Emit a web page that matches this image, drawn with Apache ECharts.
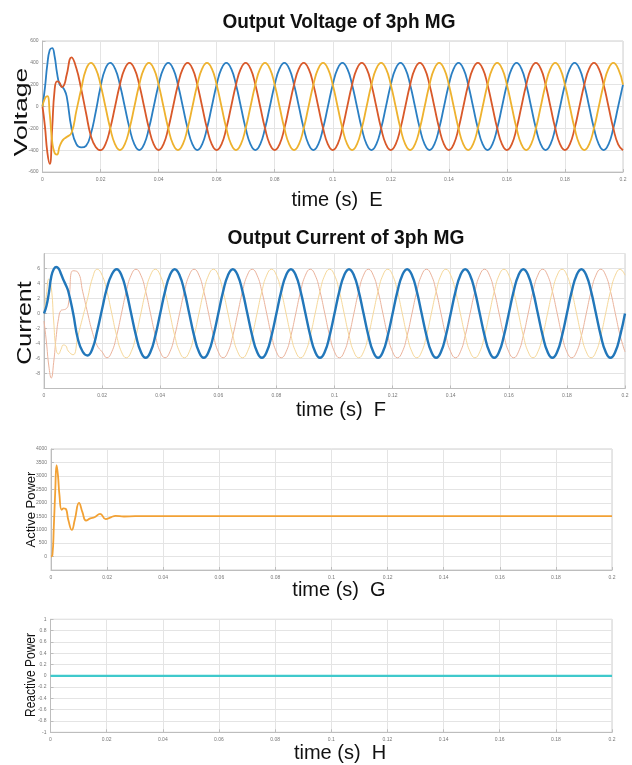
<!DOCTYPE html>
<html>
<head>
<meta charset="utf-8">
<script src="https://cdn.jsdelivr.net/npm/echarts@6/dist/echarts.min.js"></script>
<style>
html,body{margin:0;padding:0;background:#fff;}
#c{width:632px;height:765px;}
</style>
</head>
<body>
<div id="c"></div>
<script>
// ---- tick labels ----
const timeTicks = [0, 0.02, 0.04, 0.06, 0.08, 0.1, 0.12, 0.14, 0.16, 0.18, 0.2];
const voltTicks = [-600, -400, -200, 0, 200, 400, 600];
const currTicks = [-10, -8, -6, -4, -2, 0, 2, 4, 6, 8];
const pTicks = [-500, 0, 500, 1000, 1500, 2000, 2500, 3000, 3500, 4000];
const qTicks = [-1, -0.8, -0.6, -0.4, -0.2, 0, 0.2, 0.4, 0.6, 0.8, 1];

// ---- sample times for the 3-phase waveforms (fine steps during start-up) ----
const dt = 0.2 / 120;
const times = [];
for (let j = 0; j <= 10; j++) times.push(+(j * dt / 2).toFixed(6));
for (let i = 6; i <= 120; i++) times.push(+(i * dt).toFixed(6));

// ---- Output voltage (V) ----
const vBlue = [
  0, 170, 385, 517, 535, 460, 308, 206, 182, 154, 92,
  -200, -345, -375, -360, -250, -50,
  180, 346, 400, 346, 200, 0, -200, -346, -400, -346, -200, 0,
  200, 346, 400, 346, 200, 0, -200, -346, -400, -346, -200, 0,
  200, 346, 400, 346, 200, 0, -200, -346, -400, -346, -200, 0,
  200, 346, 400, 346, 200, 0, -200, -346, -400, -346, -200, 0,
  200, 346, 400, 346, 200, 0, -200, -346, -400, -346, -200, 0,
  200, 346, 400, 346, 200, 0, -200, -346, -400, -346, -200, 0,
  200, 346, 400, 346, 200, 0, -200, -346, -400, -346, -200, 0,
  200, 346, 400, 346, 200, 0, -200, -346, -400, -346, -200, 0,
  200, 346, 400, 346, 200, 0, -200, -346, -400, -346, -200, 0,
  200
];
const vRed = [
  0, -180, -420, -525, -200, 150, 230, 220, 178, 200, 290,
  450, 350, 160, -60, -270, -370,
  -400, -346, -200, 0, 200, 346, 400, 346, 200, 0, -200, -346,
  -400, -346, -200, 0, 200, 346, 400, 346, 200, 0, -200, -346,
  -400, -346, -200, 0, 200, 346, 400, 346, 200, 0, -200, -346,
  -400, -346, -200, 0, 200, 346, 400, 346, 200, 0, -200, -346,
  -400, -346, -200, 0, 200, 346, 400, 346, 200, 0, -200, -346,
  -400, -346, -200, 0, 200, 346, 400, 346, 200, 0, -200, -346,
  -400, -346, -200, 0, 200, 346, 400, 346, 200, 0, -200, -346,
  -400, -346, -200, 0, 200, 346, 400, 346, 200, 0, -200, -346,
  -400, -346, -200, 0, 200, 346, 400, 346, 200, 0, -200, -346,
  -400
];
const vYellow = [
  0, 75, 95, -70, -320, -425, -440, -370, -320, -295, -280,
  -240, -40, 160, 340, 400, 346,
  200, 0, -200, -346, -400, -346, -200, 0, 200, 346, 400, 346,
  200, 0, -200, -346, -400, -346, -200, 0, 200, 346, 400, 346,
  200, 0, -200, -346, -400, -346, -200, 0, 200, 346, 400, 346,
  200, 0, -200, -346, -400, -346, -200, 0, 200, 346, 400, 346,
  200, 0, -200, -346, -400, -346, -200, 0, 200, 346, 400, 346,
  200, 0, -200, -346, -400, -346, -200, 0, 200, 346, 400, 346,
  200, 0, -200, -346, -400, -346, -200, 0, 200, 346, 400, 346,
  200, 0, -200, -346, -400, -346, -200, 0, 200, 346, 400, 346,
  200, 0, -200, -346, -400, -346, -200, 0, 200, 346, 400, 346,
  200
];

// ---- Output current (A) ----
const iBlue = [
  0, 1.0, 2.7, 4.9, 5.9, 6.2, 6.0, 5.3, 4.5, 3.8, 3.0,
  0.1, -3.4, -5.1, -5.6, -4.7, -2.3,
  0.6, 3.4, 5.2, 5.9, 5.11, 2.95, 0, -2.95, -5.11, -5.9, -5.11, -2.95,
  0, 2.95, 5.11, 5.9, 5.11, 2.95, 0, -2.95, -5.11, -5.9, -5.11, -2.95,
  0, 2.95, 5.11, 5.9, 5.11, 2.95, 0, -2.95, -5.11, -5.9, -5.11, -2.95,
  0, 2.95, 5.11, 5.9, 5.11, 2.95, 0, -2.95, -5.11, -5.9, -5.11, -2.95,
  0, 2.95, 5.11, 5.9, 5.11, 2.95, 0, -2.95, -5.11, -5.9, -5.11, -2.95,
  0, 2.95, 5.11, 5.9, 5.11, 2.95, 0, -2.95, -5.11, -5.9, -5.11, -2.95,
  0, 2.95, 5.11, 5.9, 5.11, 2.95, 0, -2.95, -5.11, -5.9, -5.11, -2.95,
  0, 2.95, 5.11, 5.9, 5.11, 2.95, 0, -2.95, -5.11, -5.9, -5.11, -2.95,
  0, 2.95, 5.11, 5.9, 5.11, 2.95, 0, -2.95, -5.11, -5.9, -5.11, -2.95,
  0
];
const iRed = [
  -1.0, -3.8, -7.0, -8.6, -6.5, -3.2, -0.7, 0.4, 0.5, 0.6, 1.1,
  5.7, 5.5, 2.9, 0.1, -2.5, -4.3,
  -5.11, -5.9, -5.11, -2.95, 0, 2.95, 5.11, 5.9, 5.11, 2.95, 0, -2.95,
  -5.11, -5.9, -5.11, -2.95, 0, 2.95, 5.11, 5.9, 5.11, 2.95, 0, -2.95,
  -5.11, -5.9, -5.11, -2.95, 0, 2.95, 5.11, 5.9, 5.11, 2.95, 0, -2.95,
  -5.11, -5.9, -5.11, -2.95, 0, 2.95, 5.11, 5.9, 5.11, 2.95, 0, -2.95,
  -5.11, -5.9, -5.11, -2.95, 0, 2.95, 5.11, 5.9, 5.11, 2.95, 0, -2.95,
  -5.11, -5.9, -5.11, -2.95, 0, 2.95, 5.11, 5.9, 5.11, 2.95, 0, -2.95,
  -5.11, -5.9, -5.11, -2.95, 0, 2.95, 5.11, 5.9, 5.11, 2.95, 0, -2.95,
  -5.11, -5.9, -5.11, -2.95, 0, 2.95, 5.11, 5.9, 5.11, 2.95, 0, -2.95,
  -5.11, -5.9, -5.11, -2.95, 0, 2.95, 5.11, 5.9, 5.11, 2.95, 0, -2.95,
  -5.11
];
const iYellow = [
  0, 2.5, 4.6, 3.5, -1.0, -4.8, -5.4, -4.8, -4.2, -4.3, -5.0,
  -5.5, -3.0, -0.5, 2.0, 4.7, 5.9,
  5.11, 2.95, 0, -2.95, -5.11, -5.9, -5.11, -2.95, 0, 2.95, 5.11, 5.9,
  5.11, 2.95, 0, -2.95, -5.11, -5.9, -5.11, -2.95, 0, 2.95, 5.11, 5.9,
  5.11, 2.95, 0, -2.95, -5.11, -5.9, -5.11, -2.95, 0, 2.95, 5.11, 5.9,
  5.11, 2.95, 0, -2.95, -5.11, -5.9, -5.11, -2.95, 0, 2.95, 5.11, 5.9,
  5.11, 2.95, 0, -2.95, -5.11, -5.9, -5.11, -2.95, 0, 2.95, 5.11, 5.9,
  5.11, 2.95, 0, -2.95, -5.11, -5.9, -5.11, -2.95, 0, 2.95, 5.11, 5.9,
  5.11, 2.95, 0, -2.95, -5.11, -5.9, -5.11, -2.95, 0, 2.95, 5.11, 5.9,
  5.11, 2.95, 0, -2.95, -5.11, -5.9, -5.11, -2.95, 0, 2.95, 5.11, 5.9,
  5.11, 2.95, 0, -2.95, -5.11, -5.9, -5.11, -2.95, 0, 2.95, 5.11, 5.9,
  5.11
];

// ---- Active power (W) ----
const pTime = [0, 0.0005, 0.001, 0.0015, 0.002, 0.0025, 0.003, 0.0038, 0.0045, 0.0052, 0.0062, 0.0074,
  0.0085, 0.01, 0.0112, 0.0125, 0.014, 0.0155, 0.0175, 0.0195, 0.0215, 0.023, 0.026, 0.03, 0.2];
const pVal = [0, 50, 1100, 2400, 3400, 3000, 2300, 1740, 1790, 1780, 1350, 990,
  1380, 2000, 1650, 1340, 1420, 1460, 1590, 1390, 1470, 1510, 1490, 1500, 1500];

// ---- Reactive power ----
const qTime = [0, 0.2];
const qVal = [0, 0];

// ---------------------------------------------------------------
const FONT = '"Liberation Sans", Arial, sans-serif';
const pairs = (t, v) => t.map((x, i) => [x, v[i]]);
const range = (ticks) => ({ min: ticks[0], max: ticks[ticks.length - 1], interval: +(ticks[1] - ticks[0]).toFixed(6) });

const grids = [
  { left: 42.5, top: 41, width: 580.5, height: 131 },
  { left: 44, top: 253.5, width: 581, height: 135 },
  { left: 51, top: 449, width: 561, height: 121 },
  { left: 50.5, top: 619.3, width: 561.5, height: 113 }
].map(g => Object.assign({ show: true, borderColor: '#cfcfcf', borderWidth: 1, containLabel: false, outerBoundsMode: 'none' }, g));

const baseAxis = {
  axisLine: { show: true, onZero: false, lineStyle: { color: '#bdbdbd', width: 1 } },
  axisTick: { show: true, inside: true, length: 3, lineStyle: { color: '#bdbdbd' } },
  splitLine: { show: true, lineStyle: { color: '#e4e4e4', width: 1 } },
  axisLabel: { fontSize: 5, color: '#777', fontFamily: FONT, margin: 5 }
};

const fmt = v => String(+(+v).toFixed(2));

const xAxes = [0, 1, 2, 3].map(k => Object.assign({}, baseAxis, range(timeTicks), {
  type: 'value', gridIndex: k,
  axisLabel: Object.assign({}, baseAxis.axisLabel, { formatter: fmt })
}));

const yAxes = [voltTicks, currTicks, pTicks, qTicks].map((ticks, k) => Object.assign({}, baseAxis, range(ticks), {
  type: 'value', gridIndex: k,
  axisLabel: Object.assign({}, baseAxis.axisLabel, {
    margin: 4,
    formatter: fmt,
    showMinLabel: k === 0 || k === 3,
    showMaxLabel: k !== 1
  })
}));

function line(name, xi, data, color, width, z) {
  return {
    name, type: 'line', xAxisIndex: xi, yAxisIndex: xi, data,
    showSymbol: false, smooth: true, z: z || 2,
    lineStyle: { color, width }, itemStyle: { color }, animation: false
  };
}

const series = [
  line('Va', 0, pairs(times, vBlue), '#2b7fc3', 1.8, 2),
  line('Vb', 0, pairs(times, vRed), '#d9592a', 1.8, 3),
  line('Vc', 0, pairs(times, vYellow), '#eeb22e', 1.8, 4),
  line('Ib', 1, pairs(times, iRed), '#ebb39c', 1, 2),
  line('Ic', 1, pairs(times, iYellow), '#f6d89a', 1, 3),
  line('Ia', 1, pairs(times, iBlue), '#2277ba', 2.4, 4),
  line('P', 2, pairs(pTime, pVal), '#f2a134', 1.8, 2),
  line('Q', 3, pairs(qTime, qVal), '#3fc9cc', 2.2, 2)
];

function txt(text, x, y, size, opts) {
  opts = opts || {};
  return {
    type: 'text', x, y, rotation: opts.rot || 0, scaleX: opts.sx || 1, scaleY: opts.sy || 1, z: 100,
    style: {
      text, fill: '#111',
      font: (opts.bold ? 'bold ' : '') + size + 'px ' + FONT,
      align: 'center', verticalAlign: 'middle'
    }
  };
}

const graphic = [
  txt('Output Voltage of 3ph MG', 339, 22, 20, { bold: true, sx: 0.95 }),
  txt('Output Current of 3ph MG', 346, 238, 20, { bold: true, sx: 0.96 }),
  txt('Voltage', 22, 112, 19, { rot: Math.PI / 2, sx: 1.4 }),
  txt('Current', 25.5, 323, 20, { rot: Math.PI / 2, sx: 1.25 }),
  txt('Active Power', 31.7, 509.5, 13, { rot: Math.PI / 2 }),
  txt('Reactive Power', 30.8, 675, 15, { rot: Math.PI / 2, sx: 0.8 }),
  txt('time (s)  E', 337, 200, 20),
  txt('time (s)  F', 341, 410, 20),
  txt('time (s)  G', 339, 590, 20),
  txt('time (s)  H', 340, 753, 20)
];

const chart = echarts.init(document.getElementById('c'), null, { renderer: 'canvas' });
chart.setOption({
  animation: false,
  backgroundColor: '#fff',
  grid: grids,
  xAxis: xAxes,
  yAxis: yAxes,
  series,
  graphic
});
</script>
</body>
</html>
